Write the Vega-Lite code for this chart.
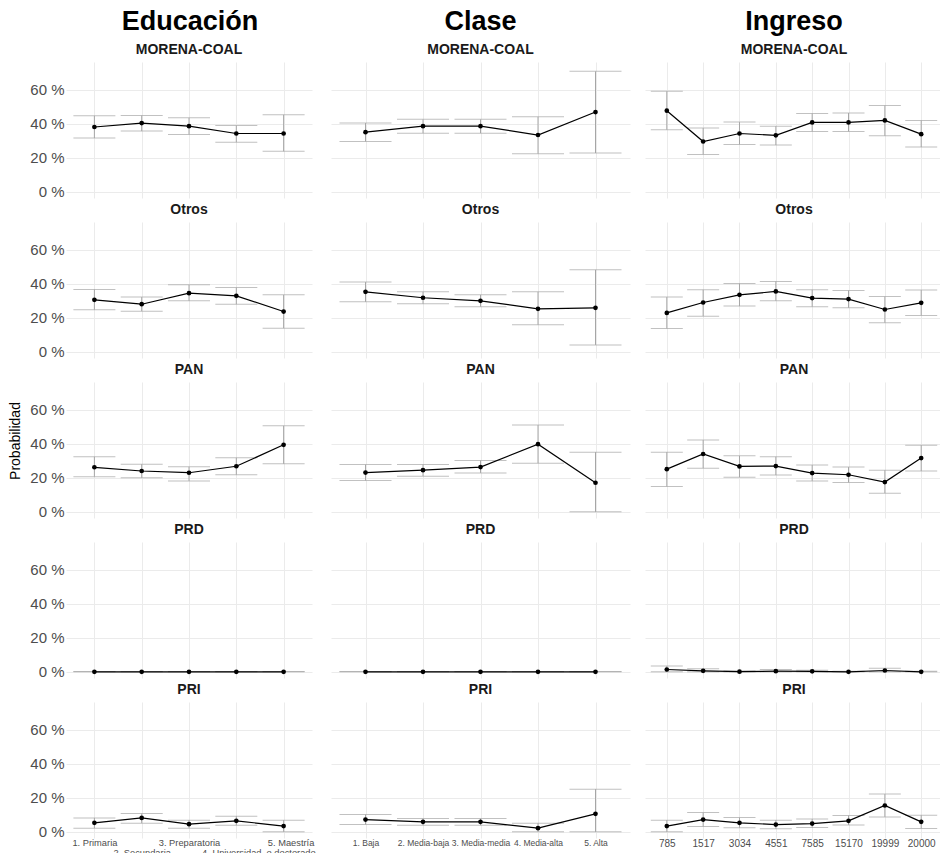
{
  "$schema": "https://vega.github.io/schema/vega-lite/v6.json",
  "padding": {"left": 8, "top": 8, "right": 0, "bottom": 0},
  "background": "white",
  "config": {
    "font": "Liberation Sans",
    "view": {"stroke": null},
    "axis": {"domain": false, "ticks": false, "gridColor": "#ebebeb", "gridWidth": 1, "labelColor": "#4d4d4d", "labelFont": "Liberation Sans"},
    "header": {"labelFontSize": 14, "labelFontWeight": "bold", "labelColor": "#1a1a1a", "labelPadding": 5, "labelFont": "Liberation Sans", "titleFont": "Liberation Sans"},
    "title": {"fontSize": 27, "fontWeight": "bold", "color": "#000000", "anchor": "middle", "font": "Liberation Sans", "offset": 7},
    "concat": {"spacing": 15}
  },
  "data": {"values": [
    {"d": "Educación", "party": "MORENA-COAL", "cat": "1. Primaria", "p": 0.381, "lo": 0.316, "hi": 0.447},
    {"d": "Educación", "party": "MORENA-COAL", "cat": "2. Secundaria", "p": 0.404, "lo": 0.357, "hi": 0.449},
    {"d": "Educación", "party": "MORENA-COAL", "cat": "3. Preparatoria", "p": 0.386, "lo": 0.337, "hi": 0.435},
    {"d": "Educación", "party": "MORENA-COAL", "cat": "4. Universidad", "p": 0.343, "lo": 0.292, "hi": 0.390},
    {"d": "Educación", "party": "MORENA-COAL", "cat": "5. Maestría o doctorado", "p": 0.343, "lo": 0.238, "hi": 0.453},
    {"d": "Educación", "party": "Otros", "cat": "1. Primaria", "p": 0.306, "lo": 0.247, "hi": 0.367},
    {"d": "Educación", "party": "Otros", "cat": "2. Secundaria", "p": 0.280, "lo": 0.239, "hi": 0.322},
    {"d": "Educación", "party": "Otros", "cat": "3. Preparatoria", "p": 0.345, "lo": 0.300, "hi": 0.394},
    {"d": "Educación", "party": "Otros", "cat": "4. Universidad", "p": 0.329, "lo": 0.280, "hi": 0.378},
    {"d": "Educación", "party": "Otros", "cat": "5. Maestría o doctorado", "p": 0.237, "lo": 0.139, "hi": 0.335},
    {"d": "Educación", "party": "PAN", "cat": "1. Primaria", "p": 0.262, "lo": 0.206, "hi": 0.324},
    {"d": "Educación", "party": "PAN", "cat": "2. Secundaria", "p": 0.240, "lo": 0.200, "hi": 0.280},
    {"d": "Educación", "party": "PAN", "cat": "3. Preparatoria", "p": 0.230, "lo": 0.182, "hi": 0.265},
    {"d": "Educación", "party": "PAN", "cat": "4. Universidad", "p": 0.268, "lo": 0.218, "hi": 0.318},
    {"d": "Educación", "party": "PAN", "cat": "5. Maestría o doctorado", "p": 0.394, "lo": 0.282, "hi": 0.506},
    {"d": "Educación", "party": "PRD", "cat": "1. Primaria", "p": 0.0005, "lo": 0, "hi": 0.002},
    {"d": "Educación", "party": "PRD", "cat": "2. Secundaria", "p": 0.0005, "lo": 0, "hi": 0.002},
    {"d": "Educación", "party": "PRD", "cat": "3. Preparatoria", "p": 0.0005, "lo": 0, "hi": 0.002},
    {"d": "Educación", "party": "PRD", "cat": "4. Universidad", "p": 0.0005, "lo": 0, "hi": 0.002},
    {"d": "Educación", "party": "PRD", "cat": "5. Maestría o doctorado", "p": 0.0005, "lo": 0, "hi": 0.002},
    {"d": "Educación", "party": "PRI", "cat": "1. Primaria", "p": 0.053, "lo": 0.022, "hi": 0.082},
    {"d": "Educación", "party": "PRI", "cat": "2. Secundaria", "p": 0.082, "lo": 0.051, "hi": 0.108},
    {"d": "Educación", "party": "PRI", "cat": "3. Preparatoria", "p": 0.045, "lo": 0.022, "hi": 0.069},
    {"d": "Educación", "party": "PRI", "cat": "4. Universidad", "p": 0.065, "lo": 0.039, "hi": 0.092},
    {"d": "Educación", "party": "PRI", "cat": "5. Maestría o doctorado", "p": 0.034, "lo": 0, "hi": 0.069},

    {"d": "Clase", "party": "MORENA-COAL", "cat": "1. Baja", "p": 0.351, "lo": 0.296, "hi": 0.404},
    {"d": "Clase", "party": "MORENA-COAL", "cat": "2. Media-baja", "p": 0.386, "lo": 0.345, "hi": 0.426},
    {"d": "Clase", "party": "MORENA-COAL", "cat": "3. Media-media", "p": 0.386, "lo": 0.345, "hi": 0.426},
    {"d": "Clase", "party": "MORENA-COAL", "cat": "4. Media-alta", "p": 0.334, "lo": 0.224, "hi": 0.441},
    {"d": "Clase", "party": "MORENA-COAL", "cat": "5. Alta", "p": 0.469, "lo": 0.228, "hi": 0.708},
    {"d": "Clase", "party": "Otros", "cat": "1. Baja", "p": 0.353, "lo": 0.294, "hi": 0.410},
    {"d": "Clase", "party": "Otros", "cat": "2. Media-baja", "p": 0.318, "lo": 0.282, "hi": 0.353},
    {"d": "Clase", "party": "Otros", "cat": "3. Media-media", "p": 0.300, "lo": 0.265, "hi": 0.335},
    {"d": "Clase", "party": "Otros", "cat": "4. Media-alta", "p": 0.253, "lo": 0.159, "hi": 0.353},
    {"d": "Clase", "party": "Otros", "cat": "5. Alta", "p": 0.259, "lo": 0.041, "hi": 0.482},
    {"d": "Clase", "party": "PAN", "cat": "1. Baja", "p": 0.231, "lo": 0.184, "hi": 0.278},
    {"d": "Clase", "party": "PAN", "cat": "2. Media-baja", "p": 0.245, "lo": 0.210, "hi": 0.278},
    {"d": "Clase", "party": "PAN", "cat": "3. Media-media", "p": 0.263, "lo": 0.229, "hi": 0.302},
    {"d": "Clase", "party": "PAN", "cat": "4. Media-alta", "p": 0.398, "lo": 0.286, "hi": 0.510},
    {"d": "Clase", "party": "PAN", "cat": "5. Alta", "p": 0.171, "lo": 0, "hi": 0.351},
    {"d": "Clase", "party": "PRD", "cat": "1. Baja", "p": 0.0005, "lo": 0, "hi": 0.002},
    {"d": "Clase", "party": "PRD", "cat": "2. Media-baja", "p": 0.0005, "lo": 0, "hi": 0.002},
    {"d": "Clase", "party": "PRD", "cat": "3. Media-media", "p": 0.0005, "lo": 0, "hi": 0.002},
    {"d": "Clase", "party": "PRD", "cat": "4. Media-alta", "p": 0.0005, "lo": 0, "hi": 0.002},
    {"d": "Clase", "party": "PRD", "cat": "5. Alta", "p": 0.0005, "lo": 0, "hi": 0.002},
    {"d": "Clase", "party": "PRI", "cat": "1. Baja", "p": 0.072, "lo": 0.043, "hi": 0.102},
    {"d": "Clase", "party": "PRI", "cat": "2. Media-baja", "p": 0.059, "lo": 0.039, "hi": 0.078},
    {"d": "Clase", "party": "PRI", "cat": "3. Media-media", "p": 0.059, "lo": 0.039, "hi": 0.078},
    {"d": "Clase", "party": "PRI", "cat": "4. Media-alta", "p": 0.022, "lo": 0, "hi": 0.051},
    {"d": "Clase", "party": "PRI", "cat": "5. Alta", "p": 0.106, "lo": 0, "hi": 0.251},

    {"d": "Ingreso", "party": "MORENA-COAL", "cat": "785", "p": 0.477, "lo": 0.365, "hi": 0.591},
    {"d": "Ingreso", "party": "MORENA-COAL", "cat": "1517", "p": 0.296, "lo": 0.220, "hi": 0.375},
    {"d": "Ingreso", "party": "MORENA-COAL", "cat": "3034", "p": 0.343, "lo": 0.279, "hi": 0.410},
    {"d": "Ingreso", "party": "MORENA-COAL", "cat": "4551", "p": 0.332, "lo": 0.275, "hi": 0.386},
    {"d": "Ingreso", "party": "MORENA-COAL", "cat": "7585", "p": 0.408, "lo": 0.355, "hi": 0.461},
    {"d": "Ingreso", "party": "MORENA-COAL", "cat": "15170", "p": 0.408, "lo": 0.355, "hi": 0.463},
    {"d": "Ingreso", "party": "MORENA-COAL", "cat": "19999", "p": 0.420, "lo": 0.329, "hi": 0.508},
    {"d": "Ingreso", "party": "MORENA-COAL", "cat": "20000", "p": 0.339, "lo": 0.263, "hi": 0.420},
    {"d": "Ingreso", "party": "Otros", "cat": "785", "p": 0.229, "lo": 0.137, "hi": 0.322},
    {"d": "Ingreso", "party": "Otros", "cat": "1517", "p": 0.290, "lo": 0.210, "hi": 0.365},
    {"d": "Ingreso", "party": "Otros", "cat": "3034", "p": 0.335, "lo": 0.269, "hi": 0.402},
    {"d": "Ingreso", "party": "Otros", "cat": "4551", "p": 0.355, "lo": 0.300, "hi": 0.414},
    {"d": "Ingreso", "party": "Otros", "cat": "7585", "p": 0.316, "lo": 0.265, "hi": 0.365},
    {"d": "Ingreso", "party": "Otros", "cat": "15170", "p": 0.310, "lo": 0.259, "hi": 0.361},
    {"d": "Ingreso", "party": "Otros", "cat": "19999", "p": 0.249, "lo": 0.171, "hi": 0.325},
    {"d": "Ingreso", "party": "Otros", "cat": "20000", "p": 0.288, "lo": 0.214, "hi": 0.363},
    {"d": "Ingreso", "party": "PAN", "cat": "785", "p": 0.251, "lo": 0.149, "hi": 0.351},
    {"d": "Ingreso", "party": "PAN", "cat": "1517", "p": 0.340, "lo": 0.257, "hi": 0.422},
    {"d": "Ingreso", "party": "PAN", "cat": "3034", "p": 0.267, "lo": 0.204, "hi": 0.329},
    {"d": "Ingreso", "party": "PAN", "cat": "4551", "p": 0.269, "lo": 0.216, "hi": 0.324},
    {"d": "Ingreso", "party": "PAN", "cat": "7585", "p": 0.228, "lo": 0.182, "hi": 0.275},
    {"d": "Ingreso", "party": "PAN", "cat": "15170", "p": 0.218, "lo": 0.173, "hi": 0.263},
    {"d": "Ingreso", "party": "PAN", "cat": "19999", "p": 0.175, "lo": 0.110, "hi": 0.245},
    {"d": "Ingreso", "party": "PAN", "cat": "20000", "p": 0.316, "lo": 0.240, "hi": 0.392},
    {"d": "Ingreso", "party": "PRD", "cat": "785", "p": 0.014, "lo": 0, "hi": 0.035},
    {"d": "Ingreso", "party": "PRD", "cat": "1517", "p": 0.006, "lo": 0, "hi": 0.018},
    {"d": "Ingreso", "party": "PRD", "cat": "3034", "p": 0.001, "lo": 0, "hi": 0.005},
    {"d": "Ingreso", "party": "PRD", "cat": "4551", "p": 0.004, "lo": 0, "hi": 0.014},
    {"d": "Ingreso", "party": "PRD", "cat": "7585", "p": 0.003, "lo": 0, "hi": 0.009},
    {"d": "Ingreso", "party": "PRD", "cat": "15170", "p": 0.0, "lo": 0, "hi": 0.003},
    {"d": "Ingreso", "party": "PRD", "cat": "19999", "p": 0.008, "lo": 0, "hi": 0.022},
    {"d": "Ingreso", "party": "PRD", "cat": "20000", "p": 0.0005, "lo": 0, "hi": 0.003},
    {"d": "Ingreso", "party": "PRI", "cat": "785", "p": 0.034, "lo": 0, "hi": 0.069},
    {"d": "Ingreso", "party": "PRI", "cat": "1517", "p": 0.072, "lo": 0.031, "hi": 0.114},
    {"d": "Ingreso", "party": "PRI", "cat": "3034", "p": 0.053, "lo": 0.024, "hi": 0.084},
    {"d": "Ingreso", "party": "PRI", "cat": "4551", "p": 0.043, "lo": 0.018, "hi": 0.069},
    {"d": "Ingreso", "party": "PRI", "cat": "7585", "p": 0.049, "lo": 0.025, "hi": 0.075},
    {"d": "Ingreso", "party": "PRI", "cat": "15170", "p": 0.065, "lo": 0.041, "hi": 0.096},
    {"d": "Ingreso", "party": "PRI", "cat": "19999", "p": 0.155, "lo": 0.088, "hi": 0.222},
    {"d": "Ingreso", "party": "PRI", "cat": "20000", "p": 0.059, "lo": 0.020, "hi": 0.098}
  ]},
  "hconcat": [
    {
      "title": {"text": "Educación", "dx": 28},
      "transform": [{"filter": "datum.d == 'Educación'"}],
      "facet": {"field": "party", "type": "nominal", "title": "Probabilidad",
        "sort": ["MORENA-COAL", "Otros", "PAN", "PRD", "PRI"],
        "header": {"titleOrient": "left", "titleAngle": 270, "titleFontSize": 14, "titleFontWeight": "normal", "titleColor": "#000000", "titlePadding": -8, "titleAnchor": "middle"}},
      "columns": 1,
      "spacing": 5,
      "spec": {
        "width": 246, "height": 136,
        "encoding": {
          "x": {"field": "cat", "type": "ordinal", "title": null,
            "sort": ["1. Primaria", "2. Secundaria", "3. Preparatoria", "4. Universidad", "5. Maestría o doctorado"],
            "scale": {"type": "point", "padding": 0.6},
            "axis": {"grid": true, "labelAngle": 0, "labelFontSize": 9.3, "labelPadding": 0, "labelOverlap": false, "labelLineHeight": 10,
              "labelOffset": {"condition": [{"test": "datum.value == '5. Maestría o doctorado'", "value": 7}, {"test": "datum.value == '4. Universidad'", "value": -5}], "value": 0},
              "labelExpr": "datum.value == '2. Secundaria' || datum.value == '4. Universidad' ? ['', datum.value] : (datum.value == '5. Maestría o doctorado' ? ['5. Maestría', 'o doctorado'] : datum.value)"}}
        },
        "layer": [
          {"mark": {"type": "rule", "color": "#a6a6a6", "strokeWidth": 1},
           "encoding": {"y": {"field": "lo", "type": "quantitative", "title": null, "scale": {"domain": [-0.036, 0.763], "nice": false, "zero": false},
              "axis": {"values": [0, 0.1, 0.2, 0.3, 0.4, 0.5, 0.6, 0.7], "labelFontSize": 15, "labelPadding": 2, "labelExpr": "round(datum.value*10) % 2 == 0 ? replace(format(datum.value, '.0%'), '%', ' %') : ''"}},
             "y2": {"field": "hi"}}},
          {"mark": {"type": "tick", "color": "#a6a6a6", "size": 42, "thickness": 1, "orient": "horizontal"},
           "encoding": {"y": {"field": "lo", "type": "quantitative"}}},
          {"mark": {"type": "tick", "color": "#a6a6a6", "size": 42, "thickness": 1, "orient": "horizontal"},
           "encoding": {"y": {"field": "hi", "type": "quantitative"}}},
          {"mark": {"type": "line", "color": "#000000", "strokeWidth": 1.2},
           "encoding": {"y": {"field": "p", "type": "quantitative"}}},
          {"mark": {"type": "point", "filled": true, "color": "#000000", "size": 22, "opacity": 1},
           "encoding": {"y": {"field": "p", "type": "quantitative"}}}
        ]
      }
    },
    {
      "title": {"text": "Clase"},
      "transform": [{"filter": "datum.d == 'Clase'"}],
      "facet": {"field": "party", "type": "nominal", "title": null,
        "sort": ["MORENA-COAL", "Otros", "PAN", "PRD", "PRI"]},
      "columns": 1,
      "spacing": 5,
      "spec": {
        "width": 299, "height": 136,
        "encoding": {
          "x": {"field": "cat", "type": "ordinal", "title": null,
            "sort": ["1. Baja", "2. Media-baja", "3. Media-media", "4. Media-alta", "5. Alta"],
            "scale": {"type": "point", "padding": 0.6},
            "axis": {"grid": true, "labelAngle": 0, "labelFontSize": 8.5, "labelPadding": 0, "labelOverlap": false}}
        },
        "layer": [
          {"mark": {"type": "rule", "color": "#a6a6a6", "strokeWidth": 1},
           "encoding": {"y": {"field": "lo", "type": "quantitative", "title": null, "scale": {"domain": [-0.036, 0.763], "nice": false, "zero": false},
              "axis": {"values": [0, 0.1, 0.2, 0.3, 0.4, 0.5, 0.6, 0.7], "labels": false}},
             "y2": {"field": "hi"}}},
          {"mark": {"type": "tick", "color": "#a6a6a6", "size": 52, "thickness": 1, "orient": "horizontal"},
           "encoding": {"y": {"field": "lo", "type": "quantitative"}}},
          {"mark": {"type": "tick", "color": "#a6a6a6", "size": 52, "thickness": 1, "orient": "horizontal"},
           "encoding": {"y": {"field": "hi", "type": "quantitative"}}},
          {"mark": {"type": "line", "color": "#000000", "strokeWidth": 1.2},
           "encoding": {"y": {"field": "p", "type": "quantitative"}}},
          {"mark": {"type": "point", "filled": true, "color": "#000000", "size": 22, "opacity": 1},
           "encoding": {"y": {"field": "p", "type": "quantitative"}}}
        ]
      }
    },
    {
      "title": {"text": "Ingreso"},
      "transform": [{"filter": "datum.d == 'Ingreso'"}],
      "facet": {"field": "party", "type": "nominal", "title": null,
        "sort": ["MORENA-COAL", "Otros", "PAN", "PRD", "PRI"]},
      "columns": 1,
      "spacing": 5,
      "spec": {
        "width": 298, "height": 136,
        "encoding": {
          "x": {"field": "cat", "type": "ordinal", "title": null,
            "sort": ["785", "1517", "3034", "4551", "7585", "15170", "19999", "20000"],
            "scale": {"type": "point", "padding": 0.6},
            "axis": {"grid": true, "labelAngle": 0, "labelFontSize": 10, "labelPadding": 0, "labelOverlap": false}}
        },
        "layer": [
          {"mark": {"type": "rule", "color": "#a6a6a6", "strokeWidth": 1},
           "encoding": {"y": {"field": "lo", "type": "quantitative", "title": null, "scale": {"domain": [-0.036, 0.763], "nice": false, "zero": false},
              "axis": {"values": [0, 0.1, 0.2, 0.3, 0.4, 0.5, 0.6, 0.7], "labels": false}},
             "y2": {"field": "hi"}}},
          {"mark": {"type": "tick", "color": "#a6a6a6", "size": 32, "thickness": 1, "orient": "horizontal"},
           "encoding": {"y": {"field": "lo", "type": "quantitative"}}},
          {"mark": {"type": "tick", "color": "#a6a6a6", "size": 32, "thickness": 1, "orient": "horizontal"},
           "encoding": {"y": {"field": "hi", "type": "quantitative"}}},
          {"mark": {"type": "line", "color": "#000000", "strokeWidth": 1.2},
           "encoding": {"y": {"field": "p", "type": "quantitative"}}},
          {"mark": {"type": "point", "filled": true, "color": "#000000", "size": 22, "opacity": 1},
           "encoding": {"y": {"field": "p", "type": "quantitative"}}}
        ]
      }
    }
  ]
}
